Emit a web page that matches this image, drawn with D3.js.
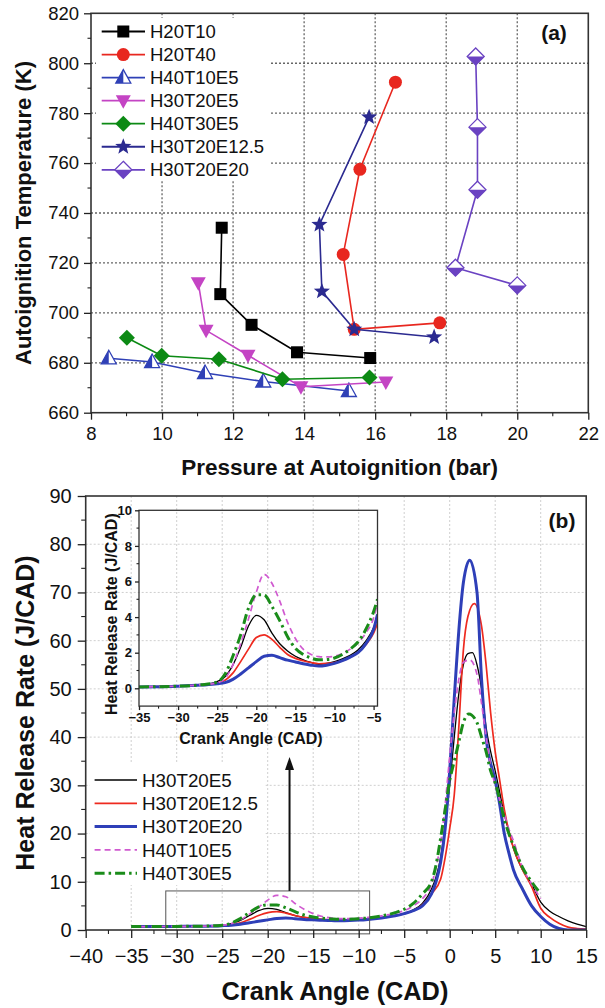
<!DOCTYPE html>
<html><head><meta charset="utf-8">
<script src="https://cdn.jsdelivr.net/npm/d3@7"></script>
<style>
body{margin:0;background:#fff}
svg{display:block}
text{font-family:"Liberation Sans",Arial,Helvetica,sans-serif;fill:#111}
</style>
</head><body>
<svg id="chart" width="605" height="1008"></svg>
<script>
// ---------- Panel (a): autoignition temperature vs pressure ----------
const pressureTicks = [8, 10, 12, 14, 16, 18, 20, 22];
const tempTicks = [660, 680, 700, 720, 740, 760, 780, 800, 820];

const seriesNamesA = ["H20T10", "H20T40", "H40T10E5", "H30T20E5", "H40T30E5", "H30T20E12.5", "H30T20E20"];
const H20T10_p = [11.68, 11.64, 12.52, 13.80, 15.86];
const H20T10_T = [734.1, 707.5, 695.2, 684.2, 681.9];
const H20T40_p = [16.57, 15.57, 15.10, 15.41, 17.82];
const H20T40_T = [792.4, 757.5, 723.4, 693.4, 696.0];
const H40T10E5_p = [8.50, 9.72, 11.21, 12.85, 15.26];
const H40T10E5_T = [681.8, 680.3, 675.9, 672.5, 668.7];
const H30T20E5_p = [11.02, 11.24, 12.42, 13.91, 16.30];
const H30T20E5_T = [712.1, 693.0, 683.0, 670.4, 672.3];
const H40T30E5_p = [9.01, 9.99, 11.60, 13.39, 15.84];
const H40T30E5_T = [690.0, 682.8, 681.4, 673.4, 674.1];
const H30T20E12_5_p = [15.83, 14.43, 14.50, 15.41, 17.66];
const H30T20E12_5_T = [778.4, 735.3, 708.6, 693.4, 690.3];
const H30T20E20_p = [18.83, 18.88, 18.88, 18.26, 20.00];
const H30T20E20_T = [802.7, 774.4, 749.3, 718.1, 711.0];

// ---------- Panel (b): heat release rate vs crank angle ----------
const cadTicks = [-40, -35, -30, -25, -20, -15, -10, -5, 0, 5, 10, 15];
const hrrTicks = [0, 10, 20, 30, 40, 50, 60, 70, 80, 90];
const seriesNamesB = ["H30T20E5", "H30T20E12.5", "H30T20E20", "H40T10E5", "H40T30E5"];

const b_H30T20E5_x = [-35,-30,-27,-25,-24,-23,-22,-21,-20,-19,-18,-17,-16,-15,-14,-13,-12,-11,-10,-9,-8,-7,-6,-5,-4,-3,-2,-1.5,-1,-0.5,0,0.5,1,1.5,2,2.5,3,3.5,4,4.5,5,5.5,6,6.5,7,8,9,10,11,12,13,14,15];
const b_H30T20E5_y = [0.7,0.75,0.8,1.0,1.3,2.0,3.0,4.0,4.5,4.3,3.6,3.0,2.6,2.4,2.2,2.1,2.0,2.05,2.15,2.3,2.5,2.7,3.0,3.4,4.2,5.5,8.5,11,15,22,30,40,49,55,57.3,57.5,55,50,42,37,33,28.5,24,20.5,17,12.5,9.5,5.8,3.9,2.8,1.9,1.2,0.7];
const b_H30T20E12_5_x = [-35,-30,-27,-25,-24,-23,-22,-21,-20,-19,-18,-17,-16,-15,-14,-13,-12,-11,-10,-9,-8,-7,-6,-5,-4,-3,-2,-1,-0.5,0,0.5,1,1.5,2,2.7,3.5,4,4.5,5,5.5,6,6.5,7,8,9,10,11,12,13,14,15];
const b_H30T20E12_5_y = [0.7,0.75,0.8,0.95,1.1,1.5,2.2,3.0,3.6,3.8,3.5,3.0,2.6,2.4,2.2,2.1,2.05,2.05,2.1,2.25,2.45,2.7,3.0,3.4,4.0,5.2,7.5,10.5,15,21,28,42,58,65,67.7,63,55,45,37,31,25,20.5,17,12.5,9.0,4.5,2.6,1.4,0.6,0.3,0.2];
const b_H30T20E20_x = [-35,-30,-27,-25,-24,-23,-22,-21,-20,-19,-18,-17,-16,-15,-14,-13,-12,-11,-10,-9,-8,-7,-6,-5,-4,-3,-2,-1.5,-1,-0.5,0,0.5,1,1.5,2.2,3,3.5,4,5,5.5,6,6.5,7,8,9,10,11,12,13,14,15];
const b_H30T20E20_y = [0.7,0.75,0.8,0.9,1.0,1.2,1.5,1.8,2.1,2.4,2.5,2.35,2.2,2.1,2.0,1.95,1.9,1.95,2.05,2.2,2.4,2.65,2.95,3.4,4.0,5.0,7.5,10,14,21,33,48,62,72,76.7,70,52,40,31,26,20,16,12.5,8.5,5.0,2.8,1.2,0.3,0,0,0];
const b_H40T10E5_x = [-35,-30,-27,-25,-24,-23,-22,-21,-20,-19,-18,-17,-16,-15,-14,-13,-12,-11,-10,-9,-8,-7,-6,-5,-4,-3,-2,-1.5,-1,-0.5,0,0.5,1,1.5,2.2,3,3.5,4,4.5,5,5.5,6,6.5,7,8,9,10];
const b_H40T10E5_y = [0.7,0.75,0.8,1.0,1.3,2.1,3.3,4.7,6.2,7.2,6.9,5.5,4.3,3.4,2.8,2.5,2.35,2.35,2.45,2.6,2.8,3.1,3.5,4.0,5.0,6.5,9.5,13,18,26,36,45,52,55.5,56,53,47,40,34,30,27,24,21,18.5,13,9.5,6.5];
const b_H40T30E5_x = [-35,-30,-27,-25,-24,-23,-22,-21,-20,-19,-18,-17,-16,-15,-14,-13,-12,-11,-10,-9,-8,-7,-6,-5,-4,-3,-2,-1.5,-1,-0.5,0,0.5,1,1.5,2.1,3,3.5,4,4.5,5,5.5,6,6.5,7,8,9,10];
const b_H40T30E5_y = [0.7,0.75,0.8,1.0,1.4,2.4,3.6,4.8,5.2,5.2,4.6,3.8,3.1,2.7,2.45,2.3,2.2,2.25,2.35,2.5,2.75,3.1,3.6,4.3,5.5,7.5,10,13.5,19,25,31,35,39,43,44.8,43,40,37,33,30.5,27,23,20,17.5,13,10,7.5];

// Inset: early heat release between -35 and -5 CAD
const insetCadTicks = [-35, -30, -25, -20, -15, -10, -5];
const insetHrrTicks = [0, 2, 4, 6, 8, 10];
const inset_x = [-35,-30,-27,-25,-24,-23,-22,-21,-20,-19,-18,-17,-16,-15,-14,-13,-12,-11,-10,-9,-8,-7,-6,-5,-4.5];
const inset_H30T20E5 = [0.08,0.12,0.2,0.38,0.65,1.3,2.3,3.5,4.1,3.85,3.1,2.5,2.1,1.8,1.6,1.45,1.35,1.4,1.5,1.65,1.85,2.15,2.65,3.4,4.0];
const inset_H30T20E12_5 = [0.08,0.12,0.2,0.3,0.45,0.85,1.5,2.2,2.85,3.0,2.75,2.3,1.9,1.68,1.55,1.45,1.38,1.4,1.45,1.55,1.75,2.0,2.45,3.1,3.65];
const inset_H30T20E20 = [0.08,0.12,0.18,0.25,0.32,0.5,0.8,1.15,1.5,1.8,1.85,1.72,1.58,1.48,1.38,1.3,1.25,1.3,1.4,1.55,1.75,2.0,2.5,3.3,4.15];
const inset_H40T10E5 = [0.08,0.12,0.2,0.3,0.55,1.3,2.5,3.9,5.4,6.4,5.9,4.9,3.7,2.8,2.2,1.9,1.78,1.76,1.8,1.95,2.2,2.55,3.1,3.95,4.8];
const inset_H40T30E5 = [0.08,0.12,0.2,0.35,0.8,1.8,3.0,4.5,5.25,5.25,4.6,3.8,2.9,2.25,1.9,1.7,1.6,1.62,1.7,1.9,2.2,2.6,3.3,4.3,5.0];

// zoom window drawn on the main plot, and the arrow pointing to the inset
const zoomBoxCad = [-31.2, -8.8];
const zoomBoxHrr = [-0.8, 8.1];
const arrowCad = -17.6;
const arrowHrr = [8.1, 35.9];

// ---------------------------------------------------------------------
const svg = d3.select("#chart");
const FONT = '"Liberation Sans",Arial,Helvetica,sans-serif';

function styleAxis(g, fontSize, bold) {
  g.select(".domain").remove();
  g.selectAll(".tick line").attr("stroke", "#222").attr("stroke-width", 1.3);
  g.selectAll(".tick text").attr("font-size", fontSize).attr("font-family", FONT)
    .attr("font-weight", bold ? "bold" : "normal").attr("fill", "#111");
}
function minorTicks(g, scale, values, orient, len) {
  g.selectAll(null).data(values).enter().append("line")
    .attr("stroke", "#222").attr("stroke-width", 1.1)
    .each(function (d) {
      const s = d3.select(this), p = scale(d);
      if (orient === "bottom") s.attr("x1", p).attr("x2", p).attr("y1", 0).attr("y2", len);
      else s.attr("y1", p).attr("y2", p).attr("x1", 0).attr("x2", -len);
    });
}

// ====================== Panel (a) ======================
const ax = d3.scaleLinear().domain([8, 22]).range([91, 588.3]);
const ay = d3.scaleLinear().domain([660, 820]).range([412.7, 13.3]);
const gA = svg.append("g");

// grid
gA.append("g").selectAll("line").data(pressureTicks.slice(1, -1)).enter().append("line")
  .attr("x1", d => ax(d)).attr("x2", d => ax(d)).attr("y1", ay(820)).attr("y2", ay(660))
  .attr("stroke", "#666").attr("stroke-width", 1.3).attr("stroke-dasharray", "2,2");
gA.append("g").selectAll("line").data(tempTicks.slice(1, -1)).enter().append("line")
  .attr("y1", d => ay(d)).attr("y2", d => ay(d)).attr("x1", ax(8)).attr("x2", ax(22))
  .attr("stroke", "#666").attr("stroke-width", 1.3).attr("stroke-dasharray", "2,2");

// legend background hides the grid behind it
gA.append("rect").attr("x", 96).attr("y", 18).attr("width", 174).attr("height", 163).attr("fill", "#fff");

// frame
gA.append("rect").attr("x", ax(8)).attr("y", ay(820)).attr("width", ax(22) - ax(8)).attr("height", ay(660) - ay(820))
  .attr("fill", "none").attr("stroke", "#333").attr("stroke-width", 1.6);

// axes
const axB = gA.append("g").attr("transform", `translate(0,${ay(660)})`)
  .call(d3.axisBottom(ax).tickValues(pressureTicks).tickSize(7).tickPadding(7).tickFormat(d3.format("d")));
styleAxis(axB, 18.5, false);
minorTicks(axB, ax, [9, 11, 13, 15, 17, 19, 21], "bottom", 3.5);
const axL = gA.append("g").attr("transform", `translate(${ax(8)},0)`)
  .call(d3.axisLeft(ay).tickValues(tempTicks).tickSize(7).tickPadding(5).tickFormat(d3.format("d")));
styleAxis(axL, 18.5, false);
minorTicks(axL, ay, [670, 690, 710, 730, 750, 770, 790, 810], "left", 3.5);

gA.append("text").attr("transform", `translate(23,${(ay(660) + ay(820)) / 2}) rotate(-90)`)
  .attr("text-anchor", "middle").attr("dy", "0.35em").attr("font-size", 22).attr("font-weight", "bold")
  .text("Autoignition Temperature (K)");
gA.append("text").attr("x", (ax(8) + ax(22)) / 2).attr("y", 475).attr("text-anchor", "middle")
  .attr("font-size", 22.5).attr("font-weight", "bold").text("Pressure at Autoignition (bar)");
gA.append("text").attr("x", 554).attr("y", 40).attr("text-anchor", "middle")
  .attr("font-size", 21).attr("font-weight", "bold").text("(a)");

// marker shapes
function marker(g, type, color, x, y) {
  const m = g.append("g").attr("transform", `translate(${x},${y})`);
  const poly = pts => "M" + pts.map(p => p.join(",")).join("L") + "Z";
  if (type === "square") {
    m.append("rect").attr("x", -6).attr("y", -6).attr("width", 12).attr("height", 12).attr("fill", color);
  } else if (type === "circle") {
    m.append("circle").attr("r", 6.5).attr("fill", color);
  } else if (type === "triUpHalf") {
    m.append("path").attr("d", poly([[0, -8], [7.5, 5.5], [-7.5, 5.5]])).attr("fill", "#fff").attr("stroke", color).attr("stroke-width", 1.3);
    m.append("path").attr("d", poly([[0, -8], [0, 5.5], [-7.5, 5.5]])).attr("fill", color);
  } else if (type === "triDown") {
    m.append("path").attr("d", poly([[-7.5, -5.5], [7.5, -5.5], [0, 8]])).attr("fill", color);
  } else if (type === "diamond") {
    m.append("path").attr("d", poly([[0, -8], [8, 0], [0, 8], [-8, 0]])).attr("fill", color);
  } else if (type === "star") {
    const pts = d3.range(10).map(i => {
      const r = i % 2 ? 3.6 : 8.5, a = -Math.PI / 2 + i * Math.PI / 5;
      return [r * Math.cos(a), r * Math.sin(a)];
    });
    m.append("path").attr("d", poly(pts)).attr("fill", color);
  } else if (type === "diamondHalf") {
    m.append("path").attr("d", poly([[0, -8.5], [8.5, 0], [0, 8.5], [-8.5, 0]])).attr("fill", "#fff").attr("stroke", color).attr("stroke-width", 1.3);
    m.append("path").attr("d", poly([[-8.5, 0], [8.5, 0], [0, 8.5]])).attr("fill", color);
  }
}

const seriesA = [
  { name: seriesNamesA[0], p: H20T10_p, T: H20T10_T, color: "#000000", type: "square" },
  { name: seriesNamesA[1], p: H20T40_p, T: H20T40_T, color: "#e8271f", type: "circle" },
  { name: seriesNamesA[2], p: H40T10E5_p, T: H40T10E5_T, color: "#2f40b6", type: "triUpHalf" },
  { name: seriesNamesA[3], p: H30T20E5_p, T: H30T20E5_T, color: "#c444c4", type: "triDown" },
  { name: seriesNamesA[4], p: H40T30E5_p, T: H40T30E5_T, color: "#0c8a14", type: "diamond" },
  { name: seriesNamesA[5], p: H30T20E12_5_p, T: H30T20E12_5_T, color: "#2b2a90", type: "star" },
  { name: seriesNamesA[6], p: H30T20E20_p, T: H30T20E20_T, color: "#6a42c2", type: "diamondHalf" }
];
const lineA = d3.line().x(d => ax(d[0])).y(d => ay(d[1]));
seriesA.forEach(s => {
  const pts = s.p.map((p, i) => [p, s.T[i]]);
  gA.append("path").attr("d", lineA(pts)).attr("fill", "none").attr("stroke", s.color).attr("stroke-width", 1.6);
  pts.forEach(pt => marker(gA, s.type, s.color, ax(pt[0]), ay(pt[1])));
});

// legend (a)
seriesA.forEach((s, i) => {
  const y = 31.5 + i * 23.05;
  gA.append("line").attr("x1", 101.7).attr("x2", 145).attr("y1", y).attr("y2", y)
    .attr("stroke", s.color).attr("stroke-width", 1.8);
  marker(gA, s.type, s.color, 123.3, y);
  gA.append("text").attr("x", 150).attr("y", y).attr("dy", "0.36em").attr("font-size", 18.5).text(s.name);
});

// ====================== Panel (b) ======================
const bx = d3.scaleLinear().domain([-40, 15]).range([85.7, 586.2]);
const by = d3.scaleLinear().domain([0, 90]).range([930, 496]);
const gB = svg.append("g");

// grid
gB.append("g").selectAll("line").data(cadTicks.slice(1, -1)).enter().append("line")
  .attr("x1", d => bx(d)).attr("x2", d => bx(d)).attr("y1", by(90)).attr("y2", by(0))
  .attr("stroke", "#cfcfcf").attr("stroke-width", 1).attr("stroke-dasharray", "2,2");
gB.append("g").selectAll("line").data(hrrTicks.slice(1, -1)).enter().append("line")
  .attr("y1", d => by(d)).attr("y2", d => by(d)).attr("x1", bx(-40)).attr("x2", bx(15))
  .attr("stroke", "#cfcfcf").attr("stroke-width", 1).attr("stroke-dasharray", "2,2");

// legend background
gB.append("rect").attr("x", 90).attr("y", 764).attr("width", 175).attr("height", 121).attr("fill", "#fff");

const seriesB = [
  { name: seriesNamesB[0], x: b_H30T20E5_x, y: b_H30T20E5_y, inset: inset_H30T20E5, color: "#000000", width: 1.3, dash: null },
  { name: seriesNamesB[1], x: b_H30T20E12_5_x, y: b_H30T20E12_5_y, inset: inset_H30T20E12_5, color: "#ee2a1f", width: 1.7, dash: null },
  { name: seriesNamesB[2], x: b_H30T20E20_x, y: b_H30T20E20_y, inset: inset_H30T20E20, color: "#2e3fb8", width: 3, dash: null },
  { name: seriesNamesB[3], x: b_H40T10E5_x, y: b_H40T10E5_y, inset: inset_H40T10E5, color: "#d05ad0", width: 1.7, dash: "6,4" },
  { name: seriesNamesB[4], x: b_H40T30E5_x, y: b_H40T30E5_y, inset: inset_H40T30E5, color: "#1a8c1a", width: 3, dash: "10,4,2.5,4" }
];

svg.append("defs").append("clipPath").attr("id", "clipB").append("rect")
  .attr("x", bx(-40)).attr("y", by(90)).attr("width", bx(15) - bx(-40)).attr("height", by(0) - by(90));

const lineB = d3.line().x(d => bx(d[0])).y(d => by(d[1])).curve(d3.curveMonotoneX);
const curvesB = gB.append("g").attr("clip-path", "url(#clipB)");
seriesB.forEach(s => {
  curvesB.append("path").attr("d", lineB(s.x.map((x, i) => [x, s.y[i]])))
    .attr("fill", "none").attr("stroke", s.color).attr("stroke-width", s.width)
    .attr("stroke-dasharray", s.dash).attr("stroke-linejoin", "round");
});

// zoom window + arrow
gB.append("rect").attr("x", bx(zoomBoxCad[0])).attr("y", by(zoomBoxHrr[1]))
  .attr("width", bx(zoomBoxCad[1]) - bx(zoomBoxCad[0])).attr("height", by(zoomBoxHrr[0]) - by(zoomBoxHrr[1]))
  .attr("fill", "none").attr("stroke", "#555").attr("stroke-width", 1);
gB.append("line").attr("x1", bx(arrowCad)).attr("x2", bx(arrowCad))
  .attr("y1", by(arrowHrr[0])).attr("y2", by(arrowHrr[1]) + 10)
  .attr("stroke", "#111").attr("stroke-width", 2);
gB.append("path")
  .attr("d", `M${bx(arrowCad)},${by(arrowHrr[1])} L${bx(arrowCad) + 4.5},${by(arrowHrr[1]) + 13} L${bx(arrowCad) - 4.5},${by(arrowHrr[1]) + 13}Z`)
  .attr("fill", "#111");

// frame
gB.append("rect").attr("x", bx(-40)).attr("y", by(90)).attr("width", bx(15) - bx(-40)).attr("height", by(0) - by(90))
  .attr("fill", "none").attr("stroke", "#333").attr("stroke-width", 1.6);

const bxAxis = gB.append("g").attr("transform", `translate(0,${by(0)})`)
  .call(d3.axisBottom(bx).tickValues(cadTicks).tickSize(8).tickPadding(10.5).tickFormat(d3.format("d")));
styleAxis(bxAxis, 20, false);
minorTicks(bxAxis, bx, d3.range(-37.5, 15, 5), "bottom", 4);
const byAxis = gB.append("g").attr("transform", `translate(${bx(-40)},0)`)
  .call(d3.axisLeft(by).tickValues(hrrTicks).tickSize(8).tickPadding(6).tickFormat(d3.format("d")));
styleAxis(byAxis, 20, false);
minorTicks(byAxis, by, d3.range(5, 90, 10), "left", 4.5);

gB.append("text").attr("transform", `translate(25,${(by(0) + by(90)) / 2}) rotate(-90)`)
  .attr("text-anchor", "middle").attr("dy", "0.35em").attr("font-size", 25).attr("font-weight", "bold")
  .text("Heat Release Rate (J/CAD)");
gB.append("text").attr("x", (bx(-40) + bx(15)) / 2 - 1).attr("y", 1000).attr("text-anchor", "middle")
  .attr("font-size", 25.3).attr("font-weight", "bold").text("Crank Angle (CAD)");
gB.append("text").attr("x", 562).attr("y", 528).attr("text-anchor", "middle")
  .attr("font-size", 21).attr("font-weight", "bold").text("(b)");

// legend (b)
seriesB.forEach((s, i) => {
  const y = 780 + i * 23.3;
  gB.append("line").attr("x1", 94.6).attr("x2", 137).attr("y1", y).attr("y2", y)
    .attr("stroke", s.color).attr("stroke-width", s.width).attr("stroke-dasharray", s.dash);
  gB.append("text").attr("x", 142).attr("y", y).attr("dy", "0.36em").attr("font-size", 18.8).text(s.name);
});

// ---------- inset ----------
const ix = d3.scaleLinear().domain([-35, -4.5]).range([139, 377.5]);
const iy = d3.scaleLinear().domain([-1, 10]).range([706.1, 510.3]);
const gI = svg.append("g");
svg.select("defs").append("clipPath").attr("id", "clipI").append("rect")
  .attr("x", ix(-35)).attr("y", iy(10)).attr("width", ix(-4.5) - ix(-35)).attr("height", iy(-1) - iy(10));

const lineI = d3.line().x(d => ix(d[0])).y(d => iy(d[1])).curve(d3.curveMonotoneX);
const curvesI = gI.append("g").attr("clip-path", "url(#clipI)");
seriesB.forEach(s => {
  curvesI.append("path").attr("d", lineI(inset_x.map((x, i) => [x, s.inset[i]])))
    .attr("fill", "none").attr("stroke", s.color).attr("stroke-width", s.width)
    .attr("stroke-dasharray", s.dash).attr("stroke-linejoin", "round");
});
gI.append("rect").attr("x", ix(-35)).attr("y", iy(10)).attr("width", ix(-4.5) - ix(-35)).attr("height", iy(-1) - iy(10))
  .attr("fill", "none").attr("stroke", "#333").attr("stroke-width", 1.3);

const ixAxis = gI.append("g").attr("transform", `translate(0,${iy(-1)})`)
  .call(d3.axisBottom(ix).tickValues(insetCadTicks).tickSize(4).tickPadding(2.5).tickFormat(d3.format("d")));
styleAxis(ixAxis, 13, true);
minorTicks(ixAxis, ix, d3.range(-32.5, -4.5, 5), "bottom", 2.5);
const iyAxis = gI.append("g").attr("transform", `translate(${ix(-35)},0)`)
  .call(d3.axisLeft(iy).tickValues(insetHrrTicks).tickSize(4).tickPadding(3).tickFormat(d3.format("d")));
styleAxis(iyAxis, 13, true);
minorTicks(iyAxis, iy, [1, 3, 5, 7, 9], "left", 2.5);

gI.append("text").attr("transform", `translate(111,${(iy(-1) + iy(10)) / 2 + 6}) rotate(-90)`)
  .attr("text-anchor", "middle").attr("dy", "0.35em").attr("font-size", 16).attr("font-weight", "bold")
  .text("Heat Release Rate (J/CAD)");
gI.append("text").attr("x", 251).attr("y", 744).attr("text-anchor", "middle")
  .attr("font-size", 16).attr("font-weight", "bold").text("Crank Angle (CAD)");
</script>
</body></html>
